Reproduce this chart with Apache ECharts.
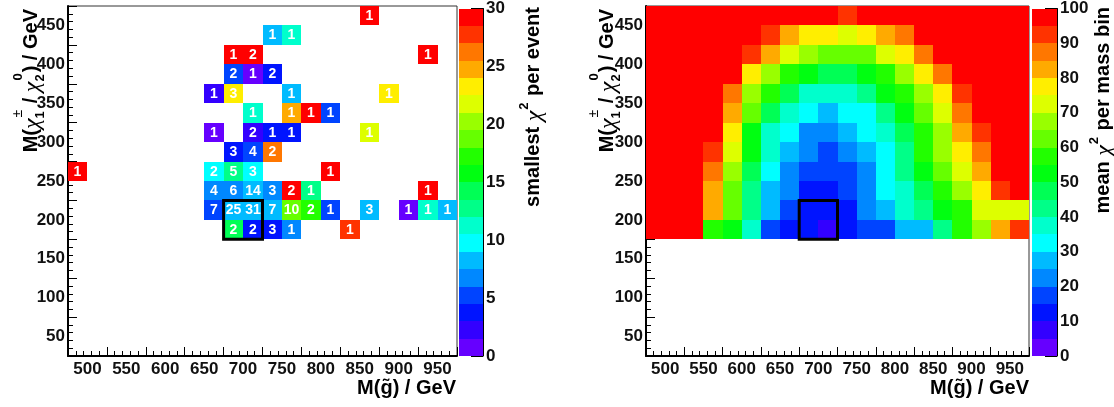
<!DOCTYPE html>
<html><head><meta charset="utf-8">
<script src="https://cdn.jsdelivr.net/npm/echarts@6/dist/echarts.min.js"></script>
<style>html,body{margin:0;padding:0;background:#fff}#c{width:1114px;height:407px}</style>
</head><body><div id="c"></div>
<script>
// ---------------- data ----------------
const gluinoLabels = [500, 550, 600, 650, 700, 750, 800, 850, 900, 950];
const charginoLabels = [50, 100, 150, 200, 250, 300, 350, 400, 450];
const leftColorLabels = [0, 5, 10, 15, 20, 25, 30];
const rightColorLabels = [0, 10, 20, 30, 40, 50, 60, 70, 80, 90, 100];
const binWidth = 25;

// left panel: occupied bins (bin centres), smallest chi2 (colour) and number of events (text)
const leftGluino   = [862.5, 737.5, 762.5, 687.5, 712.5, 937.5, 687.5, 712.5, 737.5, 662.5, 687.5, 762.5, 887.5, 712.5, 762.5, 787.5, 812.5, 662.5, 712.5, 737.5, 762.5, 862.5, 687.5, 712.5, 737.5, 487.5, 662.5, 687.5, 712.5, 812.5, 662.5, 687.5, 712.5, 737.5, 762.5, 787.5, 937.5, 662.5, 687.5, 712.5, 737.5, 762.5, 787.5, 812.5, 862.5, 912.5, 937.5, 962.5, 687.5, 712.5, 737.5, 762.5, 837.5];
const leftChargino = [462.5, 437.5, 437.5, 412.5, 412.5, 412.5, 387.5, 387.5, 387.5, 362.5, 362.5, 362.5, 362.5, 337.5, 337.5, 337.5, 337.5, 312.5, 312.5, 312.5, 312.5, 312.5, 287.5, 287.5, 287.5, 262.5, 262.5, 262.5, 262.5, 262.5, 237.5, 237.5, 237.5, 237.5, 237.5, 237.5, 237.5, 212.5, 212.5, 212.5, 212.5, 212.5, 212.5, 212.5, 212.5, 212.5, 212.5, 212.5, 187.5, 187.5, 187.5, 187.5, 187.5];
const leftChi2     = [29.4, 8.2, 11.3, 29.4, 29.4, 29.4, 5.3, 0.8, 3.7, 2.3, 23.2, 8.2, 23.2, 11.3, 24.8, 29.4, 5.3, 0.8, 2.3, 3.7, 3.7, 21.8, 3.7, 5.3, 26.3, 29.4, 9.7, 12.8, 9.7, 29.4, 6.8, 6.8, 8.2, 6.8, 29.4, 12.8, 29.4, 5.3, 8.2, 8.2, 8.2, 18.7, 17.3, 5.3, 8.2, 0.8, 11.3, 8.2, 14.2, 3.7, 3.7, 6.8, 27.7];
const leftEvents   = [1, 1, 1, 1, 2, 1, 2, 1, 2, 1, 3, 1, 1, 1, 1, 1, 1, 1, 2, 1, 1, 1, 3, 4, 2, 1, 2, 5, 3, 1, 4, 6, 14, 3, 2, 1, 1, 7, 25, 31, 7, 10, 2, 1, 3, 1, 1, 1, 2, 2, 3, 1, 1];

// right panel: mean chi2 per mass bin, rows top -> bottom
const rightGluino = [487.5, 512.5, 537.5, 562.5, 587.5, 612.5, 637.5, 662.5, 687.5, 712.5, 737.5, 762.5, 787.5, 812.5, 837.5, 862.5, 887.5, 912.5, 937.5, 962.5];
const rightChargino = [462.5, 437.5, 412.5, 387.5, 362.5, 337.5, 312.5, 287.5, 262.5, 237.5, 212.5, 187.5];
const meanChi2 = [
  [100,100,100,100,100,100,100,100,100,100,92.5,100,100,100,100,100,100,100,100,100],
  [100,100,100,100,100,100,92.5,82.5,77.5,77.5,72.5,77.5,82.5,87.5,100,100,100,100,100,100],
  [100,100,100,100,100,92.5,82.5,72.5,67.5,62.5,62.5,62.5,72.5,77.5,87.5,100,100,100,100,100],
  [100,100,100,100,100,77.5,67.5,57.5,52.5,47.5,47.5,52.5,57.5,67.5,77.5,87.5,100,100,100,100],
  [100,100,100,100,87.5,67.5,57.5,47.5,37.5,37.5,37.5,42.5,52.5,57.5,67.5,77.5,92.5,100,100,100],
  [100,100,100,100,82.5,62.5,47.5,37.5,32.5,27.5,32.5,32.5,42.5,52.5,62.5,72.5,87.5,100,100,100],
  [100,100,100,100,77.5,52.5,37.5,32.5,22.5,22.5,27.5,32.5,37.5,47.5,57.5,67.5,82.5,92.5,100,100],
  [100,100,100,92.5,72.5,52.5,37.5,27.5,22.5,17.5,22.5,27.5,32.5,42.5,57.5,67.5,77.5,87.5,100,100],
  [100,100,100,87.5,67.5,47.5,32.5,22.5,17.5,17.5,17.5,22.5,32.5,42.5,52.5,62.5,72.5,82.5,100,100],
  [100,100,100,82.5,62.5,42.5,27.5,22.5,12.5,12.5,17.5,22.5,32.5,37.5,47.5,57.5,67.5,77.5,92.5,100],
  [100,100,100,82.5,62.5,42.5,27.5,17.5,12.5,12.5,12.5,22.5,27.5,37.5,42.5,52.5,57.5,72.5,72.5,72.5],
  [100,100,100,57.5,52.5,37.5,17.5,12.5,12.5,7.5,12.5,17.5,17.5,27.5,27.5,42.5,57.5,67.5,82.5,92.5]
];
const bestFitBox = [675, 725, 175, 225]; // gluino lo/hi, chargino lo/hi

const palette = ['#6600ff','#3300ff','#0014ff','#0044ff','#0088ff','#00bbff','#00ffff','#00ffcc','#00ff88','#00ff55',
                 '#00ff11','#22ff00','#66ff00','#99ff00','#ddff00','#ffee00','#ffaa00','#ff7700','#ff3300','#ff0000'];
const leftMax = 30, rightMax = 100;

// ---------------- helpers ----------------
const FAM = '"Liberation Sans", Arial, sans-serif';
function colorFor(v, max) {
  const n = palette.length;
  let i = Math.floor(v / (max / n));
  if (i < 0) i = 0; if (i > n - 1) i = n - 1;
  return palette[i];
}
const mctx = document.createElement('canvas').getContext('2d');
function measure(t, font) { mctx.font = font; return mctx.measureText(t).width; }

const mainFont = 'bold 20px ' + FAM;
const chiFont = 'italic 24px "Liberation Serif", "DejaVu Serif", serif';
const smallFont = 'bold 13px ' + FAM;
const smallFontN = '14px ' + FAM;

function titleGroup(pieces, cx, yEnd, supDy, subDy, chiDy) {
  let x = 0; const items = [];
  pieces.forEach(p => {
    if (p.sup !== undefined || p.sub !== undefined) {
      const w1 = p.sup ? measure(p.sup, p.supFont || smallFont) : 0;
      const w2 = p.sub ? measure(p.sub, smallFont) : 0;
      if (p.sup) items.push({ text: p.sup, font: p.supFont || smallFont, x: x + 1, y: supDy });
      if (p.sub) items.push({ text: p.sub, font: smallFont, x: x, y: subDy });
      x += Math.max(w1, w2) + 2;
    } else {
      items.push({ text: p.t, font: p.font, x: x, y: p.font === chiFont ? chiDy : 0 });
      x += measure(p.t, p.font);
    }
  });
  const total = x;
  return {
    type: 'group', x: cx, y: yEnd, rotation: Math.PI / 2, silent: true,
    children: items.map(it => ({
      type: 'text', x: it.x - total, y: it.y,
      style: { text: it.text, font: it.font, fill: '#000', align: 'left', verticalAlign: 'middle' }
    }))
  };
}
const yTitlePieces = [
  { t: 'M(', font: mainFont }, { t: 'χ', font: chiFont }, { sup: '±', supFont: smallFontN, sub: '1' },
  { t: ' / ', font: mainFont }, { t: 'χ', font: chiFont }, { sup: '0', sub: '2' },
  { t: ') / GeV', font: mainFont }
];
const leftZTitle = [{ t: 'smallest ', font: mainFont }, { t: 'χ', font: chiFont }, { sup: '2' }, { t: ' per event', font: mainFont }];
const rightZTitle = [{ t: 'mean ', font: mainFont }, { t: 'χ', font: chiFont }, { sup: '2' }, { t: ' per mass bin', font: mainFont }];

// ---------------- series data ----------------
const leftData = leftGluino.map((g, i) => [g, leftChargino[i], leftChi2[i], leftEvents[i]]);
const rightData = [];
rightChargino.forEach((c, r) => rightGluino.forEach((g, k) => rightData.push([g, c, meanChi2[r][k]])));
function barLevels(max) { const n = palette.length, s = max / n; return palette.map((c, i) => [i * s, (i + 1) * s, i]); }

function cellRender(max, withText) {
  return function (params, api) {
    const x = api.value(0), y = api.value(1), v = api.value(2);
    const h = binWidth / 2;
    const p0 = api.coord([x - h, y + h]), p1 = api.coord([x + h, y - h]);
    const x0 = Math.round(p0[0]), y0 = Math.round(p0[1]), x1 = Math.round(p1[0]), y1 = Math.round(p1[1]);
    const children = [{ type: 'rect', shape: { x: x0, y: y0, width: x1 - x0, height: y1 - y0 }, style: { fill: colorFor(v, max), stroke: null } }];
    if (withText) children.push({ type: 'text', x: (x0 + x1) / 2, y: (y0 + y1) / 2 + 0.5,
      style: { text: String(api.value(3)), font: 'bold 14px ' + FAM, fill: '#fff', align: 'center', verticalAlign: 'middle' } });
    return { type: 'group', children };
  };
}
function boxRender(params, api) {
  const p0 = api.coord([api.value(0), api.value(3)]), p1 = api.coord([api.value(1), api.value(2)]);
  return { type: 'rect', shape: { x: p0[0], y: p0[1], width: p1[0] - p0[0], height: p1[1] - p0[1] },
    style: { fill: null, stroke: '#000', lineWidth: 3 }, z2: 10 };
}
function barRender(params, api) {
  const lo = api.value(0), hi = api.value(1), idx = api.value(2);
  const p0 = api.coord([0, hi]), p1 = api.coord([1, lo]);
  const y0 = Math.round(p0[1]), y1 = Math.round(p1[1]);
  return { type: 'rect', shape: { x: p0[0], y: y0, width: p1[0] - p0[0], height: y1 - y0 }, style: { fill: palette[idx] } };
}

// ---------------- axes ----------------
const labelStyle = { fontFamily: FAM, fontWeight: 'bold', fontSize: 17, color: '#111' };
const range = (a, b, s) => { const o = []; for (let v = a; v <= b + 1e-9; v += s) o.push(v); return o; };
const xMajor = range(475, 975, 50), xMinor = range(475, 975, 10).filter(v => (v - 475) % 50 !== 0);
const yMajor = range(25, 475, 50), yMinor = range(25, 475, 10).filter(v => (v - 25) % 50 !== 0);
const xLo = 475, xHi = 975, yLo = 25, yHi = 475;

function mainX(grid) {
  return [
    { type: 'value', gridIndex: grid, min: xLo, max: xHi, position: 'bottom',
      axisLine: { onZero: false, lineStyle: { color: '#000', width: 2 } },
      axisTick: { inside: true, length: 9, customValues: xMajor, lineStyle: { color: '#000', width: 1 } },
      axisLabel: Object.assign({ customValues: gluinoLabels, margin: 5 }, labelStyle), splitLine: { show: false } },
    { type: 'value', gridIndex: grid, min: xLo, max: xHi, position: 'bottom',
      axisLine: { show: false, onZero: false }, axisLabel: { show: false }, splitLine: { show: false },
      axisTick: { inside: true, length: 5, customValues: xMinor, lineStyle: { color: '#000', width: 1 } } }
  ];
}
function mainY(grid) {
  return [
    { type: 'value', gridIndex: grid, min: yLo, max: yHi, position: 'left',
      axisLine: { onZero: false, lineStyle: { color: '#000', width: 2 } },
      axisTick: { inside: true, length: 9, customValues: yMajor, lineStyle: { color: '#000', width: 1 } },
      axisLabel: Object.assign({ customValues: charginoLabels, margin: 3 }, labelStyle), splitLine: { show: false } },
    { type: 'value', gridIndex: grid, min: yLo, max: yHi, position: 'left',
      axisLine: { show: false, onZero: false }, axisLabel: { show: false }, splitLine: { show: false },
      axisTick: { inside: true, length: 5, customValues: yMinor, lineStyle: { color: '#000', width: 1 } } }
  ];
}
function barX(grid) { return { type: 'value', gridIndex: grid, min: 0, max: 1, show: false }; }
function barY(grid, max, labels) {
  return { type: 'value', gridIndex: grid, min: 0, max: max, position: 'right',
    axisLine: { onZero: false, lineStyle: { color: '#000', width: 1 } },
    axisTick: { inside: true, length: 12, customValues: labels, lineStyle: { color: '#000', width: 1 } },
    axisLabel: Object.assign({ customValues: labels, margin: 3 }, labelStyle), splitLine: { show: false } };
}

const option = {
  animation: false,
  backgroundColor: '#fff',
  grid: [
    { left: 68, top: 6, width: 389, height: 350, show: true, borderColor: '#333', borderWidth: 1, backgroundColor: 'transparent' },
    { left: 459, top: 6, width: 24, height: 350, show: false },
    { left: 646, top: 6, width: 383, height: 350, show: true, borderColor: '#333', borderWidth: 1, backgroundColor: 'transparent' },
    { left: 1032, top: 6, width: 25, height: 350, show: false }
  ],
  xAxis: [].concat(mainX(0), [barX(1)], mainX(2), [barX(3)]),
  yAxis: [].concat(mainY(0), [barY(1, leftMax, leftColorLabels)], mainY(2), [barY(3, rightMax, rightColorLabels)]),
  series: [
    { type: 'custom', xAxisIndex: 0, yAxisIndex: 0, data: leftData, renderItem: cellRender(leftMax, true), z: 2 },
    { type: 'custom', xAxisIndex: 0, yAxisIndex: 0, data: [bestFitBox], renderItem: boxRender, z: 5, clip: false },
    { type: 'custom', xAxisIndex: 2, yAxisIndex: 2, data: barLevels(leftMax), renderItem: barRender, z: 1 },
    { type: 'custom', xAxisIndex: 3, yAxisIndex: 3, data: rightData, renderItem: cellRender(rightMax, false), z: 2 },
    { type: 'custom', xAxisIndex: 3, yAxisIndex: 3, data: [bestFitBox], renderItem: boxRender, z: 5, clip: false },
    { type: 'custom', xAxisIndex: 5, yAxisIndex: 5, data: barLevels(rightMax), renderItem: barRender, z: 1 }
  ],
  graphic: { elements: [
    titleGroup(yTitlePieces, 31, 9, -13, 9, 2),
    titleGroup(yTitlePieces, 607, 9, -13, 9, 2),
    titleGroup(leftZTitle, 533, 7, -9, 9, 2),
    titleGroup(rightZTitle, 1103, 7, -9, 9, 2),
    { type: 'text', x: 456, y: 388, silent: true, style: { text: 'M(g̃) / GeV', font: mainFont, fill: '#000', align: 'right', verticalAlign: 'middle' } },
    { type: 'text', x: 1029, y: 388, silent: true, style: { text: 'M(g̃) / GeV', font: mainFont, fill: '#000', align: 'right', verticalAlign: 'middle' } }
  ] }
};
const chart = echarts.init(document.getElementById('c'), null, { renderer: 'canvas' });
chart.setOption(option);
</script></body></html>
